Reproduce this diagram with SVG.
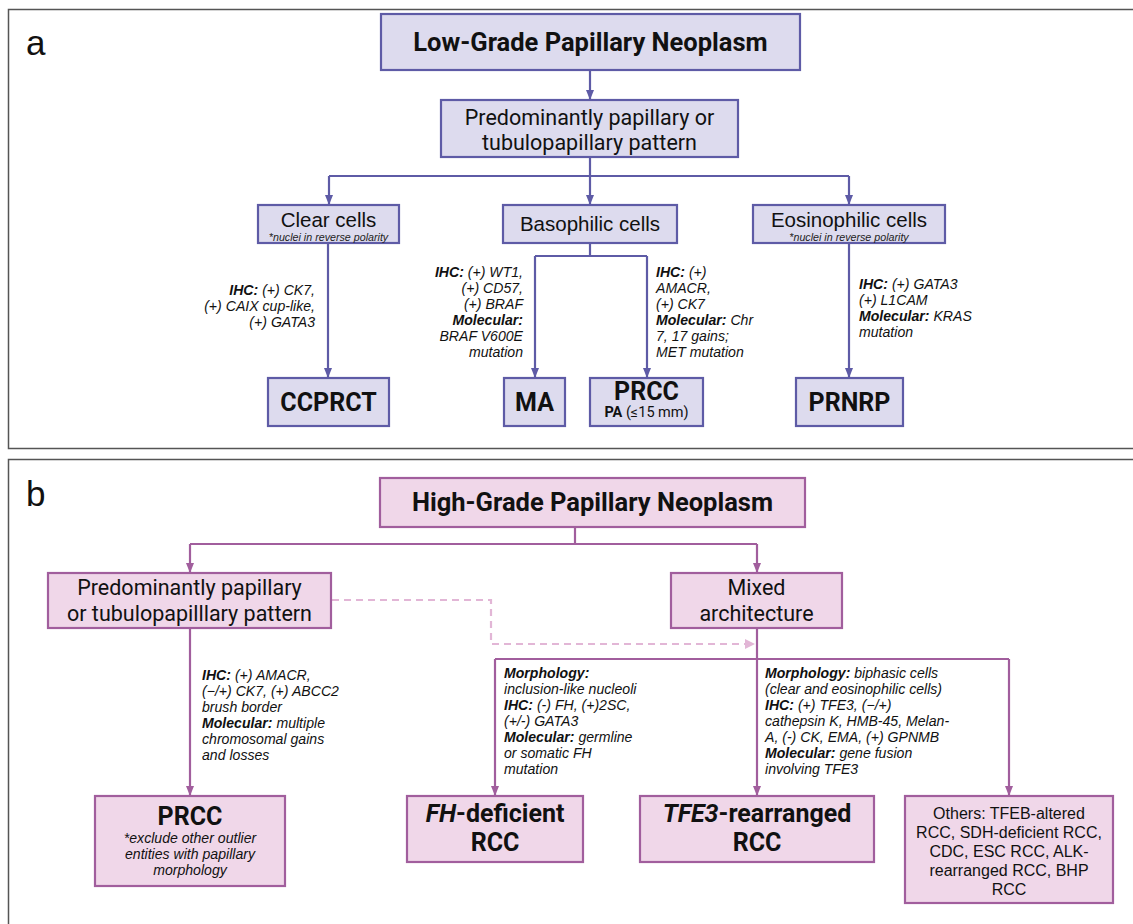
<svg xmlns="http://www.w3.org/2000/svg" width="1133" height="924" viewBox="0 0 1133 924">
<style>
.frame{fill:none;stroke:#555;stroke-width:1.5}
.na{fill:#dddbee;stroke:#5e5ba6;stroke-width:2.2}
.nb{fill:#f0d7e9;stroke:#a15e9d;stroke-width:2.2}
.ca{fill:none;stroke:#5e5ba6;stroke-width:2.2}
.cb{fill:none;stroke:#a15e9d;stroke-width:2.2}
.cd{fill:none;stroke:#e2b6d6;stroke-width:2.2;stroke-dasharray:7 5}
.title{font-family:Roboto,"Liberation Sans",sans-serif;font-weight:bold;font-size:25.5px;fill:#111;text-anchor:middle}
.mid{font-family:Roboto,"Liberation Sans",sans-serif;font-size:21.5px;fill:#111;text-anchor:middle}
.cell{font-family:"Liberation Sans",Arial,sans-serif;font-size:20.5px;fill:#111;text-anchor:middle}
.sub{font-family:"Liberation Sans",Arial,sans-serif;font-style:italic;font-size:10.7px;fill:#222;text-anchor:middle}
.big{font-family:Roboto,"Liberation Sans",sans-serif;font-weight:bold;font-size:25px;fill:#111;text-anchor:middle}
.ann{font-family:"Liberation Sans",Arial,sans-serif;font-style:italic;font-size:14.1px;fill:#111}
.b{font-weight:bold}
.lbl{font-family:"Liberation Sans",Arial,sans-serif;font-size:35px;fill:#111}
.oth{font-family:"Liberation Sans",Arial,sans-serif;font-size:16px;fill:#111;text-anchor:middle}
</style>
<defs>
<marker id="ma" markerWidth="10" markerHeight="8" refX="9" refY="4" orient="auto" markerUnits="userSpaceOnUse"><path d="M0,0 L10,4 L0,8 Z" fill="#5e5ba6"/></marker>
<marker id="mb" markerWidth="10" markerHeight="8" refX="9" refY="4" orient="auto" markerUnits="userSpaceOnUse"><path d="M0,0 L10,4 L0,8 Z" fill="#a15e9d"/></marker>
<marker id="md" markerWidth="10" markerHeight="10" refX="9" refY="5" orient="auto" markerUnits="userSpaceOnUse"><path d="M0,0 L10,5 L0,10 Z" fill="#e2b6d6"/></marker>
</defs>

<rect class="frame" x="8.5" y="9.5" width="1135" height="439"/>
<rect class="frame" x="8.5" y="459.5" width="1135" height="475"/>
<text class="lbl" x="26" y="55">a</text>
<text class="lbl" x="26" y="506">b</text>

<g id="connectors">
<path class="ca" d="M590,70 V99" marker-end="url(#ma)"/>
<path class="ca" d="M590,157 V176 M329,176 H849"/>
<path class="ca" d="M329,176 V204" marker-end="url(#ma)"/>
<path class="ca" d="M590,176 V204" marker-end="url(#ma)"/>
<path class="ca" d="M849,176 V204" marker-end="url(#ma)"/>
<path class="ca" d="M328,243 V377" marker-end="url(#ma)"/>
<path class="ca" d="M590,243 V256 M535,256 H647"/>
<path class="ca" d="M535,256 V377" marker-end="url(#ma)"/>
<path class="ca" d="M647,256 V377" marker-end="url(#ma)"/>
<path class="ca" d="M849,243 V377" marker-end="url(#ma)"/>

<path class="cb" d="M575,527 V544 M190,544 H757"/>
<path class="cb" d="M190,544 V572" marker-end="url(#mb)"/>
<path class="cb" d="M757,544 V572" marker-end="url(#mb)"/>
<path class="cd" d="M332,600 H491 V644 H754" marker-end="url(#md)"/>
<path class="cb" d="M190,628 V795" marker-end="url(#mb)"/>
<path class="cb" d="M757,628 V795" marker-end="url(#mb)"/>
<path class="cb" d="M495,659 H1009"/>
<path class="cb" d="M495,659 V795" marker-end="url(#mb)"/>
<path class="cb" d="M1009,659 V795" marker-end="url(#mb)"/>
</g>

<g id="lowgrade">
<rect class="na" x="381" y="14" width="419" height="56"/>
<text class="title" x="590.5" y="51">Low-Grade Papillary Neoplasm</text>
</g>
<g id="pattern-a">
<rect class="na" x="441" y="100" width="297" height="57"/>
<text class="mid" x="589.5" y="125">Predominantly papillary or</text>
<text class="mid" x="589.5" y="150">tubulopapillary pattern</text>
</g>
<g id="clear">
<rect class="na" x="258" y="205" width="141" height="38"/>
<text class="cell" x="328.5" y="227">Clear cells</text>
<text class="sub" x="328.5" y="240.5">*nuclei in reverse polarity</text>
</g>
<g id="baso">
<rect class="na" x="503" y="205" width="174" height="38"/>
<text class="cell" x="590" y="231">Basophilic cells</text>
</g>
<g id="eosino">
<rect class="na" x="753" y="205" width="192" height="38"/>
<text class="cell" x="849" y="227">Eosinophilic cells</text>
<text class="sub" x="849" y="240.5">*nuclei in reverse polarity</text>
</g>
<g id="ann-clear">
<text class="ann" x="315" y="295" text-anchor="end"><tspan class="b">IHC:</tspan> (+) CK7,</text>
<text class="ann" x="315" y="311" text-anchor="end">(+) CAIX cup-like,</text>
<text class="ann" x="315" y="327" text-anchor="end">(+) GATA3</text>
</g>
<g id="ann-ma">
<text class="ann" x="523" y="277" text-anchor="end"><tspan class="b">IHC:</tspan> (+) WT1,</text>
<text class="ann" x="523" y="293" text-anchor="end">(+) CD57,</text>
<text class="ann" x="523" y="309" text-anchor="end">(+) BRAF</text>
<text class="ann b" x="523" y="325" text-anchor="end">Molecular:</text>
<text class="ann" x="523" y="341" text-anchor="end">BRAF V600E</text>
<text class="ann" x="523" y="357" text-anchor="end">mutation</text>
</g>
<g id="ann-prcc">
<text class="ann" x="656" y="277"><tspan class="b">IHC:</tspan> (+)</text>
<text class="ann" x="656" y="293">AMACR,</text>
<text class="ann" x="656" y="309">(+) CK7</text>
<text class="ann" x="656" y="325"><tspan class="b">Molecular:</tspan> Chr</text>
<text class="ann" x="656" y="341">7, 17 gains;</text>
<text class="ann" x="656" y="357">MET mutation</text>
</g>
<g id="ann-prnrp">
<text class="ann" x="859" y="289"><tspan class="b">IHC:</tspan> (+) GATA3</text>
<text class="ann" x="859" y="305">(+) L1CAM</text>
<text class="ann" x="859" y="321"><tspan class="b">Molecular:</tspan> KRAS</text>
<text class="ann" x="859" y="337">mutation</text>
</g>
<g id="ccprct">
<rect class="na" x="268" y="378" width="121" height="48"/>
<text class="big" x="328.5" y="411">CCPRCT</text>
</g>
<g id="ma-node">
<rect class="na" x="504" y="378" width="61" height="48"/>
<text class="big" x="534.5" y="411">MA</text>
</g>
<g id="prcc-a">
<rect class="na" x="590" y="378" width="113" height="48"/>
<text class="big" x="646.5" y="400" font-size="22">PRCC</text>
<text x="646.5" y="417" style="font-family:Roboto,'Liberation Sans',sans-serif;font-size:14.5px;fill:#111;text-anchor:middle"><tspan font-weight="bold">PA</tspan> (≤15 mm)</text>
</g>
<g id="prnrp">
<rect class="na" x="796" y="378" width="107" height="48"/>
<text class="big" x="849.5" y="411">PRNRP</text>
</g>

<g id="highgrade">
<rect class="nb" x="380" y="478" width="425" height="49"/>
<text class="title" x="592.5" y="511">High-Grade Papillary Neoplasm</text>
</g>
<g id="pattern-b">
<rect class="nb" x="48" y="573" width="283" height="55"/>
<text class="mid" x="189.5" y="595">Predominantly papillary</text>
<text class="mid" x="189.5" y="621">or tubulopapilllary pattern</text>
</g>
<g id="mixed">
<rect class="nb" x="671" y="573" width="171" height="55"/>
<text class="mid" x="756.5" y="595">Mixed</text>
<text class="mid" x="756.5" y="621">architecture</text>
</g>
<g id="ann-prcc-b">
<text class="ann" x="202" y="680"><tspan class="b">IHC:</tspan> (+) AMACR,</text>
<text class="ann" x="202" y="696">(−/+) CK7, (+) ABCC2</text>
<text class="ann" x="202" y="712">brush border</text>
<text class="ann" x="202" y="728"><tspan class="b">Molecular:</tspan> multiple</text>
<text class="ann" x="202" y="744">chromosomal gains</text>
<text class="ann" x="202" y="760">and losses</text>
</g>
<g id="ann-fh">
<text class="ann b" x="504" y="678">Morphology:</text>
<text class="ann" x="504" y="694">inclusion-like nucleoli</text>
<text class="ann" x="504" y="710"><tspan class="b">IHC:</tspan> (-) FH, (+)2SC,</text>
<text class="ann" x="504" y="726">(+/-) GATA3</text>
<text class="ann" x="504" y="742"><tspan class="b">Molecular:</tspan> germline</text>
<text class="ann" x="504" y="758">or somatic FH</text>
<text class="ann" x="504" y="774">mutation</text>
</g>
<g id="ann-tfe3">
<text class="ann" x="765" y="678"><tspan class="b">Morphology:</tspan> biphasic cells</text>
<text class="ann" x="765" y="694">(clear and eosinophilic cells)</text>
<text class="ann" x="765" y="710"><tspan class="b">IHC:</tspan> (+) TFE3, (−/+)</text>
<text class="ann" x="765" y="726">cathepsin K, HMB-45, Melan-</text>
<text class="ann" x="765" y="742">A, (-) CK, EMA, (+) GPNMB</text>
<text class="ann" x="765" y="758"><tspan class="b">Molecular:</tspan> gene fusion</text>
<text class="ann" x="765" y="774">involving TFE3</text>
</g>
<g id="prcc-b">
<rect class="nb" x="95" y="796" width="190" height="90"/>
<text class="big" x="190" y="825">PRCC</text>
<text class="ann" x="190" y="843" text-anchor="middle" font-size="14.5">*exclude other outlier</text>
<text class="ann" x="190" y="859" text-anchor="middle" font-size="14.5">entities with papillary</text>
<text class="ann" x="190" y="875" text-anchor="middle" font-size="14.5">morphology</text>
</g>
<g id="fh">
<rect class="nb" x="407" y="796" width="176" height="66"/>
<text class="big" x="495" y="822"><tspan font-style="italic">FH</tspan>-deficient</text>
<text class="big" x="495" y="851">RCC</text>
</g>
<g id="tfe3">
<rect class="nb" x="640" y="796" width="234" height="66"/>
<text class="big" x="757" y="822"><tspan font-style="italic">TFE3</tspan>-rearranged</text>
<text class="big" x="757" y="851">RCC</text>
</g>
<g id="others">
<rect class="nb" x="905" y="796" width="208" height="107"/>
<text class="oth" x="1009" y="819">Others: TFEB-altered</text>
<text class="oth" x="1009" y="838">RCC, SDH-deficient RCC,</text>
<text class="oth" x="1009" y="857">CDC, ESC RCC, ALK-</text>
<text class="oth" x="1009" y="876">rearranged RCC, BHP</text>
<text class="oth" x="1009" y="895">RCC</text>
</g>
</svg>
